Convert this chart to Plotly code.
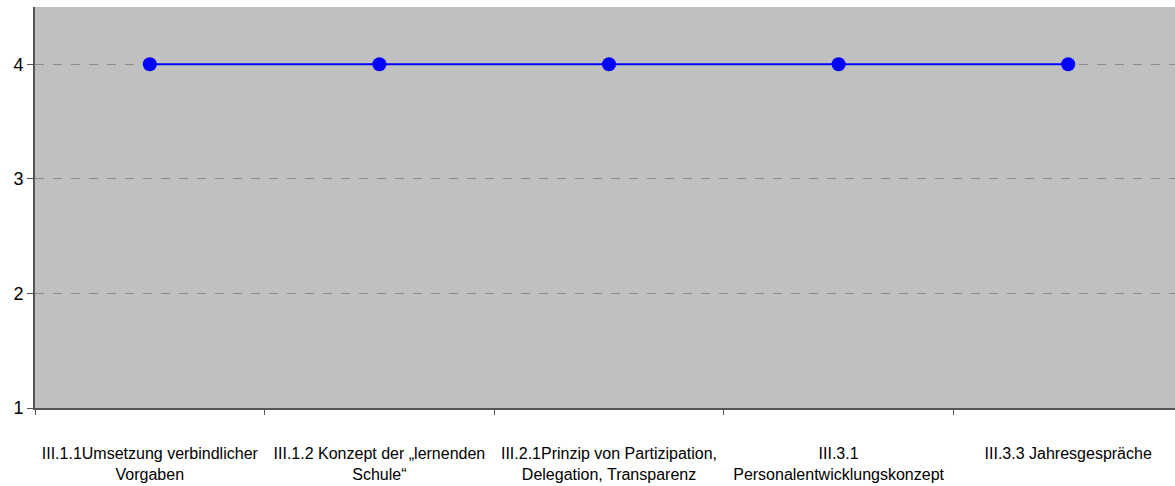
import plotly.graph_objects as go

categories = [
    "III.1.1Umsetzung verbindlicher<br>Vorgaben",
    "III.1.2 Konzept der „lernenden<br>Schule“",
    "III.2.1Prinzip von Partizipation,<br>Delegation, Transparenz",
    "III.3.1<br>Personalentwicklungskonzept",
    "III.3.3 Jahresgespräche",
]
values = [4, 4, 4, 4, 4]
y_ticks = [1, 2, 3, 4]

xpos = list(range(len(categories)))

fig = go.Figure()
fig.add_trace(go.Scatter(
    x=xpos, y=values, mode="lines+markers",
    line=dict(color="#0000FF", width=2),
    marker=dict(color="#0000FF", size=14),
    showlegend=False,
))

fig.update_layout(
    width=1175, height=486,
    margin=dict(l=35, r=0, t=7, b=78),
    paper_bgcolor="white",
    plot_bgcolor="#C0C0C0",
    font=dict(family="Liberation Sans, Arial, sans-serif", color="black"),
)
fig.update_xaxes(
    automargin=False,
    range=[-0.5, -0.5 + 1140 / 229.6],
    tickvals=xpos, ticktext=categories,
    ticks="", ticklabelstandoff=30,
    tickfont=dict(size=16),
    showgrid=False, zeroline=False,
    showline=True, linecolor="#555555", linewidth=2,
    minor=dict(tick0=-0.5, dtick=1, ticks="outside", ticklen=5, tickcolor="#555555", showgrid=False),
)
fig.update_yaxes(
    automargin=False,
    range=[1, 4.5],
    tickvals=y_ticks,
    ticks="outside", ticklen=6, tickcolor="#555555",
    tickfont=dict(size=18),
    showgrid=True, gridcolor="#8C8C8C", griddash="dash", gridwidth=1,
    zeroline=False,
    showline=True, linecolor="#555555", linewidth=2,
)

fig.write_html(
    "out.html",
    config={"displayModeBar": False},
    post_script="document.body.style.margin='0';document.body.style.overflow='hidden';",
)
